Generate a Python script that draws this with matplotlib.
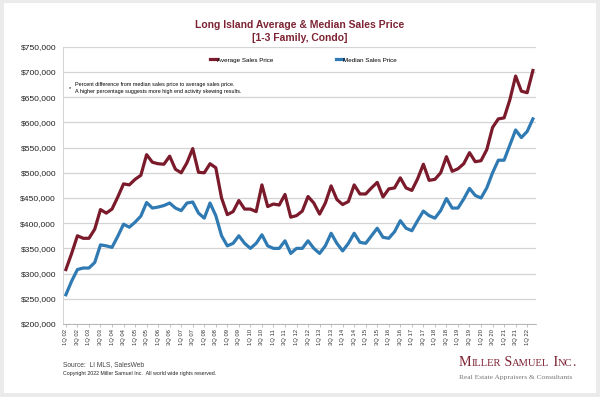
import matplotlib
matplotlib.use("Agg")
import matplotlib.pyplot as plt
from matplotlib.patches import Rectangle
from matplotlib.ticker import FuncFormatter

# quarters 1Q02 .. 2Q22
quarters = [f"{q}Q {y:02d}" for y in range(2, 23) for q in (1, 2, 3, 4)][:82]

# average sales price (thousands)
avg_price = [308, 340, 375, 370, 370, 388, 427, 420, 428, 452,
             478, 476, 487, 495, 536, 521, 518, 517, 533, 507,
             500, 520, 548, 501, 500, 518, 510, 450, 417, 423,
             445, 428, 428, 423, 476, 433, 438, 436, 457, 412,
             415, 424, 453, 440, 418, 440, 474, 447, 437, 443,
             476, 458, 458, 470, 481, 452, 468, 470, 490, 470,
             465, 488, 517, 485, 487, 500, 532, 503, 508, 518,
             540, 522, 524, 546, 590, 607, 609, 645, 692, 662,
             659, 703]

# median sales price (thousands)
med_price = [258, 285, 308, 311, 311, 322, 357, 355, 352, 374,
             398, 392, 402, 414, 441, 430, 432, 435, 440, 430,
             425, 440, 442, 420, 410, 440, 415, 375, 355, 360,
             375, 360, 350, 360, 377, 355, 350, 350, 365, 340,
             350, 350, 365, 350, 340, 355, 380, 360, 345, 360,
             380, 362, 360, 375, 390, 372, 370, 383, 405, 390,
             385, 405, 424, 415, 410, 425, 449, 430, 430, 448,
             469, 455, 450, 470, 500, 525, 525, 555, 585, 570,
             582, 607]

avg_color = "#7a1a2b"
med_color = "#2f7ab3"
title_color = "#7d2333"

plt.rcParams["font.family"] = ["Liberation Sans", "DejaVu Sans"]

fig = plt.figure(figsize=(6, 3.97), dpi=100, facecolor="#ebebeb")
fig.patches.append(Rectangle((0.006, 0.01), 0.987, 0.982, transform=fig.transFigure,
                             facecolor="white", edgecolor="none", zorder=-1))

ax = fig.add_axes([0.105, 0.184, 0.788, 0.698])
ax.set_facecolor("white")

x = list(range(len(quarters)))
ax.plot(x, [v * 1000 for v in avg_price], color=avg_color, lw=2.3,
        label="Average Sales Price")
ax.plot(x, [v * 1000 for v in med_price], color=med_color, lw=2.3,
        label="Median Sales Price")

ax.set_xlim(-0.5, len(quarters) - 0.5)
ax.set_ylim(200000, 750000)
ax.set_yticks(range(200000, 750001, 50000))
ax.yaxis.set_major_formatter(FuncFormatter(lambda v, p: f"${v:,.0f}"))
ax.grid(axis="y", color="#d4d4d4", lw=0.9)
ax.set_axisbelow(True)

ax.set_xticks(x[::2])
ax.set_xticklabels(quarters[::2], rotation=90, fontsize=4.2, color="#333333")
ax.tick_params(axis="x", length=2, width=0.5, color="#aaaaaa", pad=1.5)
ax.tick_params(axis="y", length=0, labelsize=6.1, pad=5, labelcolor="#222222")

for s in ["top", "right"]:
    ax.spines[s].set_visible(False)
ax.spines["left"].set_color("#cccccc")
ax.spines["bottom"].set_color("#aaaaaa")
ax.spines["left"].set_linewidth(0.6)
ax.spines["bottom"].set_linewidth(0.6)

ax.legend(loc="center", bbox_to_anchor=(0.508, 0.953), ncol=2, frameon=False,
          fontsize=4.5, handlelength=1.1, handletextpad=0.0, columnspacing=10)

ax.text(0.013, 0.85, "*", transform=ax.transAxes, fontsize=4.0, va="center")
ax.text(0.025, 0.85, "Percent difference from median sales price to average sales price.\n"
        "A higher percentage suggests more high end activity skewing results.",
        transform=ax.transAxes, fontsize=3.9, va="center", linespacing=1.5)

fig.text(0.5, 0.921, "Long Island Average & Median Sales Price\n[1-3 Family, Condo]",
         ha="center", va="center", fontsize=7.5, fontweight="bold", color=title_color,
         linespacing=1.3)

fig.text(0.105, 0.083, "Source:  LI MLS, SalesWeb", fontsize=4.8, color="#444444", va="center")
fig.text(0.105, 0.058, "Copyright 2022 Miller Samuel Inc.  All world wide rights reserved.",
         fontsize=3.8, color="#222222", va="center")

# logo in small caps
renderer = fig.canvas.get_renderer()
logo = "Miller Samuel Inc."
runs = []
for ch in logo:
    low = ch.islower()
    if runs and runs[-1][1] == low:
        runs[-1][0] += ch
    else:
        runs.append([ch, low])
lx = 0.765
for txt, low in runs:
    t = fig.text(lx, 0.077, txt.upper(), fontsize=7.6 if low else 10.1,
                 family="Liberation Serif", color="#7d2333", va="baseline")
    lx += t.get_window_extent(renderer=renderer).width / fig.bbox.width
fig.text(0.765, 0.050, "Real Estate Appraisers & Consultants", fontsize=5.4,
         family="Liberation Serif", color="#777777", va="center")

fig.savefig("out.png", dpi=100, facecolor=fig.get_facecolor())
